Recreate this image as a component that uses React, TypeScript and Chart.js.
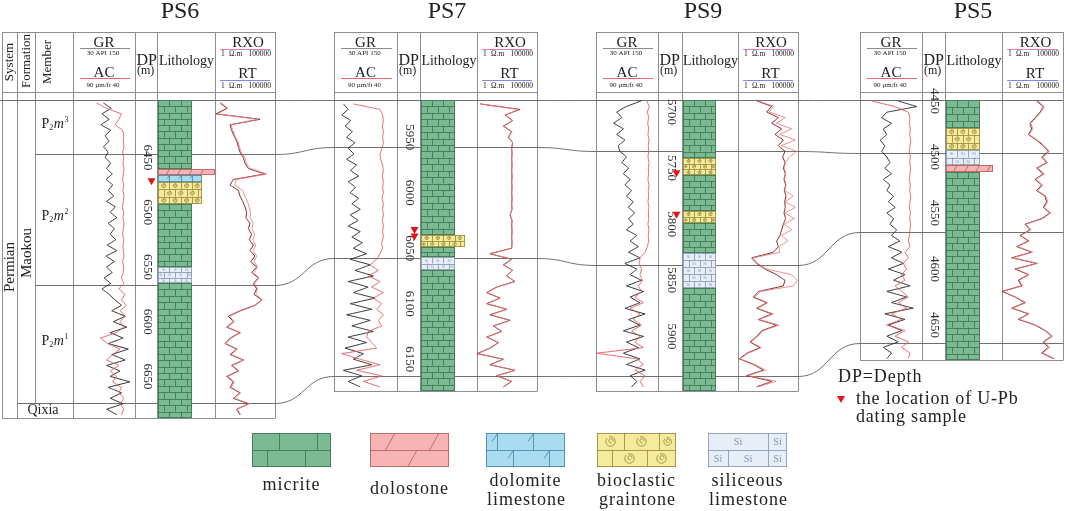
import React, { useEffect, useRef } from 'react';
import { Chart, registerables } from 'chart.js';

Chart.register(...registerables);

// ======================= DATA =======================
const WELLS = ['PS6', 'PS7', 'PS9', 'PS5'];

// ---- PS6 ----
const PS6_DEPTH = [6400, 6405, 6410, 6415, 6420, 6425, 6430, 6435, 6440, 6445, 6450, 6455, 6460, 6465, 6470, 6475, 6480, 6485, 6490, 6495, 6500, 6505, 6510, 6515, 6520, 6525, 6530, 6535, 6540, 6545, 6550, 6555, 6560, 6565, 6570, 6575, 6580, 6585, 6590, 6595, 6600, 6605, 6610, 6615, 6620, 6625, 6630, 6635, 6640, 6645, 6650, 6655, 6660, 6665, 6670, 6675, 6680, 6685];
const PS6_GR = [89, 104, 86, 100, 84, 103, 92, 100, 89, 98, 92, 103, 95, 106, 94, 107, 98, 109, 95, 112, 102, 115, 98, 110, 102, 113, 96, 115, 94, 110, 95, 106, 90, 103, 86, 100, 111, 124, 105, 131, 108, 134, 102, 127, 98, 137, 105, 131, 95, 121, 102, 140, 98, 124, 102, 127, 95, 115];
const PS6_AC = [71, 63, 51, 53, 56, 50, 49, 49.4, 48.9, 50, 49.1, 49.7, 48.9, 49.4, 50, 49.1, 49.7, 48.9, 49.4, 50.2, 49.1, 49.7, 48.9, 49.4, 50, 49.1, 49.7, 49.4, 48.9, 50, 49.1, 49.4, 51, 49, 53, 48, 51, 47, 52, 48, 52, 49, 55, 68, 62, 52, 58, 63, 53, 60, 55, 58, 51, 53, 49, 52, 49, 51];
const PS6_RT = [2.6, 9.4, 1.2, 5600, 18, 24, 38, 64, 88, 121, 230, 316, 600, 14700, 34, 18, 88, 121, 203, 316, 436, 380, 830, 600, 1140, 724, 1560, 830, 2150, 940, 2960, 1140, 4080, 1560, 2960, 1780, 7740, 2150, 121, 13, 34, 9.4, 121, 18, 6.8, 64, 18, 230, 24, 88, 9.4, 34, 18, 121, 34, 600, 64, 121];
const PS6_RXO = [3.5, 12, 1.5, 4000, 22, 30, 45, 80, 110, 150, 300, 420, 900, 20000, 60, 45, 200, 300, 500, 700, 900, 850, 1500, 1200, 2000, 1400, 2500, 1500, 3000, 1800, 3500, 1800, 4500, 2000, 3500, 2500, 9000, 2500, 150, 16, 40, 11, 140, 22, 8, 75, 22, 260, 30, 100, 12, 40, 22, 140, 40, 800, 70, 140];
const PS6_TICKS = [6450, 6500, 6550, 6600, 6650];
// section top, base P2m3, base P2m2, top Qixia, section base
const PS6_TOPS = [6397, 6447, 6566, 6674, 6688];
const PS6_LITH_TOP = [6397, 6460, 6466, 6472, 6492, 6550, 6565];
const PS6_LITH_BASE = [6460, 6466, 6472, 6492, 6550, 6565, 6688];
const PS6_LITH_TYPE = ['micrite', 'dolostone', 'dolomite limestone', 'bioclastic', 'micrite', 'siliceous', 'micrite'];
const PS6_LITH_TEXTURE = [0.6, 1, 0.78, 0.78, 0.6, 0.6, 0.6];
const PS6_SAMPLES = [6472];

// ---- PS7 ----
const PS7_DEPTH = [5920, 5925, 5930, 5935, 5940, 5945, 5950, 5955, 5960, 5965, 5970, 5975, 5980, 5985, 5990, 5995, 6000, 6005, 6010, 6015, 6020, 6025, 6030, 6035, 6040, 6045, 6050, 6055, 6060, 6065, 6070, 6075, 6080, 6085, 6090, 6095, 6100, 6105, 6110, 6115, 6120, 6125, 6130, 6135, 6140, 6145, 6150, 6155, 6160, 6165, 6170, 6175];
const PS7_GR = [48, 57, 45, 62, 51, 65, 54, 70, 57, 68, 54, 73, 61, 77, 57, 71, 61, 77, 64, 80, 61, 76, 57, 80, 64, 84, 67, 92, 61, 99, 70, 105, 57, 95, 67, 108, 61, 102, 54, 99, 64, 105, 57, 92, 51, 86, 67, 102, 48, 83, 57, 80];
const PS7_AC = [74.7, 53.5, 51.4, 50.8, 51.6, 50.8, 51.4, 50.8, 51.9, 53.5, 53, 51.4, 50.8, 51.6, 50.8, 51.4, 50.8, 51.9, 50.8, 51.4, 50.8, 51.6, 50.8, 51.4, 50.8, 52.2, 51.4, 53.5, 56.1, 61.4, 54.8, 62.7, 53.5, 60.1, 50.8, 58.8, 52.2, 56.1, 50.8, 54.8, 52.2, 62.7, 64.1, 60.1, 56.1, 83.9, 69.4, 53.5, 72, 52.2, 66.7, 53.5];
const PS7_RT = [1.8, 3800, 215, 935, 156, 776, 408, 935, 776, 827, 776, 827, 776, 827, 776, 827, 776, 827, 776, 827, 562, 827, 776, 827, 776, 827, 776, 12, 776, 156, 935, 296, 1470, 43, 6.4, 83, 6.4, 296, 12, 562, 23, 113, 6.4, 60, 12, 1, 156, 12, 1470, 43, 776, 156];
const PS7_RXO = [2, 3000, 250, 900, 180, 800, 450, 900, 800, 820, 790, 820, 790, 820, 790, 820, 790, 820, 790, 820, 600, 820, 790, 820, 790, 820, 790, 14, 800, 180, 900, 320, 1400, 50, 7, 90, 7.5, 320, 14, 600, 26, 120, 7, 65, 14, 1.2, 170, 14, 1500, 48, 800, 170];
const PS7_TICKS = [5950, 6000, 6050, 6100, 6150];
const PS7_TOPS = [5916.5, 5959, 6059, 6165, 6179];
const PS7_LITH_TOP = [5916.5, 6038, 6049, 6058, 6070];
const PS7_LITH_BASE = [6038, 6049, 6058, 6070, 6179];
const PS7_LITH_TYPE = ['micrite', 'bioclastic', 'micrite', 'siliceous', 'micrite'];
const PS7_LITH_TEXTURE = [0.6, 0.79, 0.6, 0.6, 0.6];
const PS7_SAMPLES = [6034, 6040];

// ---- PS9 ----
const PS9_DEPTH = [5690, 5695, 5700, 5705, 5710, 5715, 5720, 5725, 5730, 5735, 5740, 5745, 5750, 5755, 5760, 5765, 5770, 5775, 5780, 5785, 5790, 5795, 5800, 5805, 5810, 5815, 5820, 5825, 5830, 5835, 5840, 5845, 5850, 5855, 5860, 5865, 5870, 5875, 5880, 5885, 5890, 5895, 5900, 5905, 5910, 5915, 5920, 5925, 5930, 5935, 5940, 5945];
const PS9_GR = [118, 89, 70, 80, 64, 83, 70, 86, 73, 76, 89, 80, 93, 83, 96, 86, 99, 89, 102, 93, 105, 93, 102, 89, 109, 96, 112, 93, 115, 86, 109, 96, 118, 89, 122, 96, 115, 86, 125, 93, 115, 83, 122, 89, 112, 83, 115, 89, 125, 96, 109, 99];
const PS9_AC = [49.1, 47, 48.6, 47.5, 48.3, 47.5, 48.1, 47.3, 47.8, 47.5, 48.1, 47.3, 47.8, 47.5, 48.1, 47.3, 47.8, 47.5, 48.1, 47.3, 47.8, 47.5, 48.1, 47.3, 47.8, 47.5, 48.6, 50.5, 54.5, 55.1, 53.2, 54.5, 52.4, 55.9, 53.2, 58.6, 51.8, 62.6, 54.5, 59.9, 53.2, 61.2, 54.5, 58.6, 51.8, 89.5, 57.2, 51.8, 58.6, 50.5, 54.5, 51.8];
const PS9_RT = [36, 640, 245, 2290, 640, 4360, 1210, 6000, 2290, 8300, 5270, 8300, 6000, 8800, 6800, 9400, 7240, 10000, 7740, 8800, 6800, 9400, 6000, 4360, 3160, 1670, 2290, 880, 13.8, 36, 178, 1670, 8300, 6000, 49, 19, 245, 36, 640, 49, 1670, 94, 36, 10, 68, 5.3, 1.3, 19, 129, 5.3, 640, 36];
const PS9_RXO = [50, 900, 400, 9000, 1500, 30000, 3000, 60000, 4000, 80000, 20000, 9000, 7000, 9500, 7500, 10000, 8000, 40000, 9000, 60000, 8000, 50000, 7000, 30000, 4000, 15000, 2500, 3000, 18, 45, 250, 30000, 90000, 40000, 70, 25, 300, 45, 900, 60, 2500, 120, 45, 12, 90, 7, 1.5, 25, 200, 7, 1500, 45];
const PS9_TICKS = [5700, 5750, 5800, 5850, 5900];
const PS9_TOPS = [5689, 5735, 5836, 5935, 5949];
const PS9_LITH_TOP = [5689, 5741, 5756, 5788, 5799, 5826, 5857];
const PS9_LITH_BASE = [5741, 5756, 5788, 5799, 5826, 5857, 5949];
const PS9_LITH_TYPE = ['micrite', 'bioclastic', 'micrite', 'bioclastic', 'micrite', 'siliceous', 'micrite'];
const PS9_LITH_TEXTURE = [0.6, 0.6, 0.6, 0.6, 0.6, 0.6, 0.6];
const PS9_SAMPLES = [5755, 5792];

// ---- PS5 ----
const PS5_DEPTH = [4450, 4455, 4460, 4465, 4470, 4475, 4480, 4485, 4490, 4495, 4500, 4505, 4510, 4515, 4520, 4525, 4530, 4535, 4540, 4545, 4550, 4555, 4560, 4565, 4570, 4575, 4580, 4585, 4590, 4595, 4600, 4605, 4610, 4615, 4620, 4625, 4630, 4635, 4640, 4645, 4650, 4655, 4660, 4665, 4670, 4675, 4680];
const PS5_GR = [104, 140, 82, 72, 91, 75, 82, 69, 78, 72, 82, 88, 78, 91, 75, 88, 82, 95, 85, 98, 82, 95, 88, 101, 91, 107, 85, 111, 91, 114, 85, 117, 95, 127, 82, 120, 91, 133, 78, 117, 85, 111, 82, 104, 75, 91, 82];
const PS5_AC = [80.6, 61.8, 51, 49.7, 50.2, 49.4, 50, 49.1, 49.7, 50.2, 49.4, 50, 49.1, 49.7, 50.2, 49.4, 50, 49.1, 49.7, 50.2, 49.4, 50, 49.1, 49.7, 50.2, 51, 49.7, 53.7, 51, 55.1, 52.4, 56.4, 53.7, 61.8, 56.4, 51, 59.1, 52.4, 64.5, 56.4, 68.5, 53.7, 61.8, 51, 56.4, 49.7, 51];
const PS5_RT = [692, 2450, 1300, 506, 198, 270, 144, 692, 2450, 6300, 1780, 4580, 692, 2450, 506, 1780, 692, 3330, 4580, 2450, 8550, 1780, 77, 198, 30, 144, 16, 270, 6.2, 692, 11.6, 144, 21.8, 41, 1, 11.6, 77, 6.2, 144, 21.8, 506, 3330, 11700, 2450, 6300, 1780, 16100];
const PS5_RXO = [900, 3000, 1600, 600, 240, 330, 170, 850, 3000, 8000, 2200, 5500, 850, 3000, 600, 2200, 850, 4000, 5500, 3000, 10000, 2200, 90, 240, 36, 170, 19, 330, 7.5, 850, 14, 170, 26, 50, 1.2, 14, 90, 7.5, 170, 26, 600, 4000, 14000, 3000, 8000, 2200, 20000];
const PS5_TICKS = [4450, 4500, 4550, 4600, 4650];
const PS5_TOPS = [4449, 4496, 4567, 4666, 4681];
const PS5_LITH_TOP = [4449, 4474, 4494, 4507, 4513];
const PS5_LITH_BASE = [4474, 4494, 4507, 4513, 4681];
const PS5_LITH_TYPE = ['micrite', 'bioclastic', 'siliceous', 'dolostone', 'micrite'];
const PS5_LITH_TEXTURE = [0.6, 0.6, 0.6, 0.84, 0.6];
const PS5_SAMPLES: number[] = [];

const GR_RANGE = [30, 150];
const AC_RANGE = [90, 40];
const RES_RANGE = [1, 100000];
const MEMBER_SUP = ['3', '2', '1'];
const LEGEND_TYPES = ['micrite', 'dolostone', 'dolomite limestone', 'bioclastic', 'siliceous'];
const LEGEND_LABELS = [['micrite'], ['dolostone'], ['dolomite', 'limestone'], ['bioclastic', 'graintone'], ['siliceous', 'limestone']];

// ======================= lookup tables built from the arrays =======================
const SERIES: any = {
  PS6: { depth: PS6_DEPTH, gr: PS6_GR, ac: PS6_AC, rt: PS6_RT, rxo: PS6_RXO },
  PS7: { depth: PS7_DEPTH, gr: PS7_GR, ac: PS7_AC, rt: PS7_RT, rxo: PS7_RXO },
  PS9: { depth: PS9_DEPTH, gr: PS9_GR, ac: PS9_AC, rt: PS9_RT, rxo: PS9_RXO },
  PS5: { depth: PS5_DEPTH, gr: PS5_GR, ac: PS5_AC, rt: PS5_RT, rxo: PS5_RXO },
};
const TOPS: any = { PS6: PS6_TOPS, PS7: PS7_TOPS, PS9: PS9_TOPS, PS5: PS5_TOPS };
const TICKS: any = { PS6: PS6_TICKS, PS7: PS7_TICKS, PS9: PS9_TICKS, PS5: PS5_TICKS };
const SAMPLES: any = { PS6: PS6_SAMPLES, PS7: PS7_SAMPLES, PS9: PS9_SAMPLES, PS5: PS5_SAMPLES };
const LITH: any = {
  PS6: { top: PS6_LITH_TOP, base: PS6_LITH_BASE, type: PS6_LITH_TYPE, tex: PS6_LITH_TEXTURE },
  PS7: { top: PS7_LITH_TOP, base: PS7_LITH_BASE, type: PS7_LITH_TYPE, tex: PS7_LITH_TEXTURE },
  PS9: { top: PS9_LITH_TOP, base: PS9_LITH_BASE, type: PS9_LITH_TYPE, tex: PS9_LITH_TEXTURE },
  PS5: { top: PS5_LITH_TOP, base: PS5_LITH_BASE, type: PS5_LITH_TYPE, tex: PS5_LITH_TEXTURE },
};

// ======================= LAYOUT / STYLE =======================
const W = 1065;
const H = 511;
const FONT = '"Liberation Serif", "Times New Roman", Times, serif';
const HEAD_TOP = 32;
const HEAD_BOT = 92;
const FRAME = '#8d8d8d';
const CORR = '#707070';
const INK = '#222';
const GR_COLOR = '#1e1e1e';
const AC_COLOR = '#e2585d';
const RT_COLOR = '#6a1111';
const RXO_COLOR = '#f07b80';

const LAYOUT: any = {
  PS6: { frameL: 2, gr: [73, 135], dp: [135, 157], lith: [157, 215], rt: [215, 275], title: 180, anchorD: 6550, anchorY: 267, k: 1.094 },
  PS7: { frameL: 334, gr: [334, 397], dp: [397, 420], lith: [420, 477], rt: [477, 537], title: 447, anchorD: 6050, anchorY: 248.2, k: 1.11 },
  PS9: { frameL: 596, gr: [596, 658], dp: [658, 682], lith: [682, 738], rt: [738, 798], title: 703, anchorD: 5800, anchorY: 224.2, k: 1.122 },
  PS5: { frameL: 860, gr: [860, 922], dp: [922, 945], lith: [945, 1002], rt: [1002, 1063], title: 973, anchorD: 4500, anchorY: 157, k: 1.12 },
};

const LITH_STYLE: any = {
  micrite: { fill: '#7bba93', line: '#37744d' },
  dolostone: { fill: '#f6b4b4', line: '#b65a5a' },
  'dolomite limestone': { fill: '#a9dcf0', line: '#45809c' },
  bioclastic: { fill: '#f5eb9a', line: '#93853a' },
  siliceous: { fill: '#e7eef8', line: '#8294ac' },
};

const LEGEND_X = [252, 370, 486, 597, 708];
const LEGEND_Y = 433;
const LEGEND_W = 79;
const LEGEND_H = 34;
const LEGEND_BRICK = [
  [38, 27, 15],
  [44, 25, 47],
  [36, 11, 27],
  [35, 27, 15],
  [40, 60, 20],
];

// ======================= scales =======================
const hidden = { display: false, bounds: 'data', grid: { display: false }, ticks: { display: false, callback: () => '' } };

function linX(p0: number, p1: number, v0: number, v1: number) {
  const k = (p1 - p0) / (v1 - v0);
  if (k > 0) {
    const min = v0 - p0 / k;
    return { ...hidden, type: 'linear', axis: 'x', min, max: min + W / k };
  }
  const kk = -k;
  const max = v0 + p0 / kk;
  return { ...hidden, type: 'linear', axis: 'x', reverse: true, min: max - W / kk, max };
}
function logX(p0: number, p1: number, v0: number, v1: number) {
  const lk = (p1 - p0) / (Math.log10(v1) - Math.log10(v0));
  const lmin = Math.log10(v0) - p0 / lk;
  return { ...hidden, type: 'logarithmic', axis: 'x', min: Math.pow(10, lmin), max: Math.pow(10, lmin + W / lk) };
}
function depthY(L: any) {
  const min = L.anchorD - L.anchorY / L.k;
  return { ...hidden, type: 'linear', axis: 'y', reverse: true, min, max: min + H / L.k };
}
function buildScales() {
  const s: any = {};
  for (const w of WELLS) {
    const L = LAYOUT[w];
    s['y_' + w] = depthY(L);
    s['xgr_' + w] = linX(L.gr[0], L.gr[1], GR_RANGE[0], GR_RANGE[1]);
    s['xac_' + w] = linX(L.gr[0], L.gr[1], AC_RANGE[0], AC_RANGE[1]);
    s['xrt_' + w] = logX(L.rt[0], L.rt[1], RES_RANGE[0], RES_RANGE[1]);
    s['xlith_' + w] = linX(L.lith[0] + 1, L.lith[1], 0, 1);
  }
  return s;
}

function pts(depth: number[], vals: number[]) {
  return depth.map((d, i) => ({ x: vals[i], y: d }));
}
function buildDatasets() {
  const out: any[] = [];
  for (const w of WELLS) {
    const S = SERIES[w];
    const y = 'y_' + w;
    out.push({ label: w + ' AC', data: pts(S.depth, S.ac), xAxisID: 'xac_' + w, yAxisID: y, borderColor: AC_COLOR });
    out.push({ label: w + ' GR', data: pts(S.depth, S.gr), xAxisID: 'xgr_' + w, yAxisID: y, borderColor: GR_COLOR });
    out.push({ label: w + ' RXO', data: pts(S.depth, S.rxo), xAxisID: 'xrt_' + w, yAxisID: y, borderColor: RXO_COLOR });
    out.push({ label: w + ' RT', data: pts(S.depth, S.rt), xAxisID: 'xrt_' + w, yAxisID: y, borderColor: RT_COLOR });
  }
  return out.map((d) => ({ ...d, showLine: true, fill: false, pointRadius: 0, pointHoverRadius: 0, borderWidth: 0.9, tension: 0.001 }));
}

// ======================= drawing helpers =======================
function snap(v: number) { return Math.round(v) + 0.5; }
function hl(ctx: any, x0: number, x1: number, y: number) { ctx.beginPath(); ctx.moveTo(x0, snap(y)); ctx.lineTo(x1, snap(y)); ctx.stroke(); }
function vl(ctx: any, x: number, y0: number, y1: number) { ctx.beginPath(); ctx.moveTo(snap(x), y0); ctx.lineTo(snap(x), y1); ctx.stroke(); }
function yPix(chart: any, w: string, d: number) { return chart.scales['y_' + w].getPixelForValue(d); }

function txt(ctx: any, s: string, x: number, y: number, size: number, o: any = {}) {
  ctx.save();
  ctx.font = `${o.italic ? 'italic ' : ''}${size}px ${FONT}`;
  ctx.fillStyle = o.color || INK;
  ctx.textAlign = o.align || 'center';
  ctx.textBaseline = o.baseline || 'alphabetic';
  if (o.spacing) ctx.letterSpacing = o.spacing;
  if (o.rot) { ctx.translate(x, y); ctx.rotate(o.rot); ctx.fillText(s, 0, 0); }
  else ctx.fillText(s, x, y);
  ctx.restore();
}

function spiral(ctx: any, cx: number, cy: number, r: number) {
  ctx.beginPath();
  ctx.arc(cx, cy, r, Math.PI * 1.4, Math.PI * 3.25);
  ctx.stroke();
  ctx.beginPath();
  ctx.arc(cx + r * 0.1, cy - r * 0.15, r * 0.45, Math.PI * 0.4, Math.PI * 2.1);
  ctx.stroke();
}

function drawPattern(ctx: any, type: string, x: number, y: number, w: number, h: number, rowH: number, brickW: number, ph0: number, ph1: number) {
  const st = LITH_STYLE[type];
  ctx.save();
  ctx.fillStyle = st.fill;
  ctx.fillRect(x, y, w, h);
  ctx.beginPath();
  ctx.rect(x, y, w, h);
  ctx.clip();
  ctx.strokeStyle = st.line;
  ctx.fillStyle = st.line;
  ctx.lineWidth = 0.8;
  const rows = Math.max(1, Math.round(h / rowH));
  const rh = h / rows;
  ctx.beginPath();
  for (let r = 1; r < rows; r++) { const yy = snap(y + r * rh); ctx.moveTo(x, yy); ctx.lineTo(x + w, yy); }
  ctx.stroke();
  for (let r = 0; r < rows; r++) {
    const ry = y + r * rh;
    const ph = r % 2 === 0 ? ph0 : ph1;
    const xs: number[] = [];
    for (let bx = x + ph; bx < x + w - 1.5; bx += brickW) if (bx > x + 1.5) xs.push(bx);
    ctx.beginPath();
    if (type === 'dolostone') {
      for (const bx of xs) { ctx.moveTo(bx - rh * 0.55, ry + rh); ctx.lineTo(bx, ry); }
    } else {
      for (const bx of xs) { ctx.moveTo(snap(bx), ry); ctx.lineTo(snap(bx), ry + rh); }
      if (type === 'dolomite limestone') for (const bx of xs) { ctx.moveTo(bx - rh * 0.3, ry + rh * 0.5); ctx.lineTo(snap(bx), ry + 0.5); }
    }
    ctx.stroke();
    if (type === 'bioclastic' || type === 'siliceous') {
      const edges = [x, ...xs, x + w];
      for (let c = 0; c < edges.length - 1; c++) {
        const cw = edges[c + 1] - edges[c];
        if (cw < rh * 0.9) continue;
        const cx = (edges[c] + edges[c + 1]) / 2;
        const cy = ry + rh / 2;
        if (type === 'bioclastic') spiral(ctx, cx, cy, Math.min(rh * 0.28, cw * 0.22));
        else {
          ctx.font = `${Math.max(3.5, rh * 0.6)}px ${FONT}`;
          ctx.textAlign = 'center';
          ctx.textBaseline = 'middle';
          ctx.fillText('Si', cx, cy + 0.5);
        }
      }
    }
  }
  ctx.restore();
  ctx.save();
  ctx.strokeStyle = st.line;
  ctx.lineWidth = 0.8;
  ctx.strokeRect(x + 0.4, y + 0.4, w - 0.8, h - 0.8);
  ctx.restore();
}

function tri(ctx: any, cx: number, cy: number) {
  ctx.save();
  ctx.beginPath();
  ctx.moveTo(cx - 4, cy - 3.5);
  ctx.lineTo(cx + 4, cy - 3.5);
  ctx.lineTo(cx, cy + 3.5);
  ctx.closePath();
  ctx.fillStyle = '#e3141b';
  ctx.fill();
  ctx.restore();
}

function memberLabel(ctx: any, cx: number, baseY: number, sup: string) {
  ctx.save();
  ctx.fillStyle = INK;
  ctx.textBaseline = 'alphabetic';
  ctx.textAlign = 'left';
  const f1 = `14px ${FONT}`, f2 = `8px ${FONT}`, f3 = `italic 14px ${FONT}`;
  ctx.font = f1; const a = ctx.measureText('P').width;
  ctx.font = f2; const b = ctx.measureText('2').width;
  ctx.font = f3; const c = ctx.measureText('m').width;
  ctx.font = f2; const d = ctx.measureText(sup).width;
  let x = cx - (a + b + c + d + 1) / 2;
  ctx.font = f1; ctx.fillText('P', x, baseY); x += a;
  ctx.font = f2; ctx.fillText('2', x, baseY + 2); x += b + 0.5;
  ctx.font = f3; ctx.fillText('m', x, baseY); x += c + 0.5;
  ctx.font = f2; ctx.fillText(sup, x, baseY - 6);
  ctx.restore();
}

// ======================= plugin parts =======================
function drawFrames(chart: any) {
  const ctx = chart.ctx;
  ctx.save();
  ctx.strokeStyle = FRAME;
  ctx.lineWidth = 1;
  for (const w of WELLS) {
    const L = LAYOUT[w];
    const yb = yPix(chart, w, TOPS[w][4]);
    const xs = [L.frameL, L.gr[0], L.gr[1], L.dp[1], L.lith[1], L.rt[1]];
    for (const x of xs) vl(ctx, x, HEAD_TOP, snap(yb));
    hl(ctx, L.frameL, L.rt[1], HEAD_TOP);
    hl(ctx, L.frameL, L.rt[1], HEAD_BOT);
    hl(ctx, L.frameL, L.rt[1], yb);
  }
  const yb6 = yPix(chart, 'PS6', PS6_TOPS[4]);
  const yq = yPix(chart, 'PS6', PS6_TOPS[3]);
  vl(ctx, 17, HEAD_TOP, snap(yb6));
  vl(ctx, 35, HEAD_TOP, snap(yq));
  ctx.restore();
}

function drawCorrelation(chart: any) {
  const ctx = chart.ctx;
  ctx.save();
  ctx.strokeStyle = CORR;
  ctx.lineWidth = 1;
  const starts = [0, 35, 35, 17];
  for (let i = 0; i < 4; i++) {
    const ys = WELLS.map((w) => snap(yPix(chart, w, TOPS[w][i])));
    ctx.beginPath();
    ctx.moveTo(starts[i], ys[0]);
    ctx.lineTo(LAYOUT[WELLS[0]].rt[1], ys[0]);
    for (let j = 1; j < WELLS.length; j++) {
      const xa = LAYOUT[WELLS[j - 1]].rt[1];
      const N = LAYOUT[WELLS[j]];
      const xb = N.frameL;
      const xm = (xa + xb) / 2;
      ctx.bezierCurveTo(xm, ys[j - 1], xm, ys[j], xb, ys[j]);
      ctx.lineTo(N.rt[1], ys[j]);
    }
    ctx.stroke();
  }
  ctx.restore();
}

function drawLithology(chart: any) {
  const ctx = chart.ctx;
  for (const w of WELLS) {
    const lx = chart.scales['xlith_' + w];
    const ys = chart.scales['y_' + w];
    const Lt = LITH[w];
    const x0 = Math.round(lx.getPixelForValue(0));
    const brick = (lx.getPixelForValue(0.6) - lx.getPixelForValue(0)) / 3;
    for (let i = 0; i < Lt.top.length; i++) {
      const y0 = Math.round(ys.getPixelForValue(Lt.top[i]));
      const y1 = Math.round(ys.getPixelForValue(Lt.base[i]));
      const x1 = Math.round(lx.getPixelForValue(Lt.tex[i]));
      drawPattern(ctx, Lt.type[i], x0, y0, x1 - x0, y1 - y0, 6.4, brick, brick, brick / 2);
    }
  }
}

function scaleLine(ctx: any, L: any, y: number) {
  txt(ctx, '1', L.rt[0] + 6, y, 7.5, { align: 'left' });
  txt(ctx, 'Ω.m', L.rt[0] + 14, y, 7.5, { align: 'left' });
  txt(ctx, '100000', L.rt[1] - 4, y, 7.5, { align: 'right' });
}

function drawTexts(chart: any) {
  const ctx = chart.ctx;
  for (const w of WELLS) {
    const L = LAYOUT[w];
    txt(ctx, w, L.title, 18, 24);
    const gc = (L.gr[0] + L.gr[1]) / 2;
    txt(ctx, 'GR', gc, 46.5, 15);
    txt(ctx, '30 API 150', gc - 1, 54.5, 7);
    txt(ctx, 'AC', gc, 77, 15);
    txt(ctx, '90 µm/ft 40', gc - 1, 87, 7);
    ctx.save();
    ctx.lineWidth = 1.2;
    ctx.strokeStyle = '#8c8c8c'; hl(ctx, L.gr[0] + 7, L.gr[1] - 5, 48);
    ctx.strokeStyle = '#e06a6a'; hl(ctx, L.gr[0] + 7, L.gr[1] - 5, 78);
    ctx.strokeStyle = '#e07ac4'; hl(ctx, L.rt[0] + 5, L.rt[1] - 5, 48.5);
    ctx.strokeStyle = '#8585ea'; hl(ctx, L.rt[0] + 5, L.rt[1] - 5, 79.5);
    ctx.restore();
    txt(ctx, 'DP', L.dp[0] + 1.5, 65, 16, { align: 'left' });
    txt(ctx, '(m)', L.dp[0] + 2, 74, 12, { align: 'left' });
    txt(ctx, 'Lithology', (L.lith[0] + L.lith[1]) / 2 + 0.5, 64.5, 14);
    const rc = (L.rt[0] + L.rt[1]) / 2 + 3;
    txt(ctx, 'RXO', rc, 47, 15);
    scaleLine(ctx, L, 56);
    txt(ctx, 'RT', rc - 0.5, 78, 15);
    scaleLine(ctx, L, 88);
    // depth labels
    const dc = (L.dp[0] + L.dp[1]) / 2 + 1;
    for (const d of TICKS[w]) txt(ctx, String(d), dc, yPix(chart, w, d), 13, { rot: Math.PI / 2, baseline: 'middle', color: '#333' });
    // sample markers
    for (const d of SAMPLES[w]) tri(ctx, L.dp[1] - 5.5, yPix(chart, w, d));
  }
  // PS6 stratigraphic columns
  txt(ctx, 'System', 10, 62, 13, { rot: -Math.PI / 2, baseline: 'middle' });
  txt(ctx, 'Formation', 27, 61, 13, { rot: -Math.PI / 2, baseline: 'middle' });
  txt(ctx, 'Member', 48, 62, 13, { rot: -Math.PI / 2, baseline: 'middle' });
  txt(ctx, 'Permian', 10, 267, 15, { rot: -Math.PI / 2, baseline: 'middle' });
  txt(ctx, 'Maokou', 27, 253, 15, { rot: -Math.PI / 2, baseline: 'middle' });
  txt(ctx, 'Qixia', 43, 413.5, 14);
  for (let i = 0; i < 3; i++) {
    const ya = yPix(chart, 'PS6', PS6_TOPS[i]);
    const yb = yPix(chart, 'PS6', PS6_TOPS[i + 1]);
    memberLabel(ctx, 55, (ya + yb) / 2 + 1, MEMBER_SUP[i]);
  }
}

function drawLegend(chart: any) {
  const ctx = chart.ctx;
  LEGEND_TYPES.forEach((t, i) => {
    const [bw, p0, p1] = LEGEND_BRICK[i];
    drawPattern(ctx, t, LEGEND_X[i], LEGEND_Y, LEGEND_W, LEGEND_H, 17, bw, p0, p1);
    const cx = LEGEND_X[i] + LEGEND_W / 2;
    const lab = LEGEND_LABELS[i];
    if (lab.length === 1) txt(ctx, lab[0], cx, i === 0 ? 490 : 494, 18, { spacing: '1px' });
    else { txt(ctx, lab[0], cx, 486, 18, { spacing: '1px' }); txt(ctx, lab[1], cx + 1, 505, 18, { spacing: '1px' }); }
  });
  txt(ctx, 'DP=Depth', 838, 382, 18, { align: 'left', spacing: '0.9px' });
  tri(ctx, 841, 399.5);
  txt(ctx, 'the location of U-Pb', 856, 404, 18, { align: 'left', spacing: '0.8px' });
  txt(ctx, 'dating sample', 856, 422, 18, { align: 'left', spacing: '0.8px' });
}

const panelPlugin = {
  id: 'logPanel',
  beforeDraw(chart: any) {
    const ctx = chart.ctx;
    ctx.save();
    ctx.fillStyle = '#ffffff';
    ctx.fillRect(0, 0, W, H);
    ctx.restore();
  },
  beforeDatasetsDraw(chart: any) {
    drawFrames(chart);
    drawCorrelation(chart);
    drawLithology(chart);
  },
  afterDatasetsDraw(chart: any) {
    drawTexts(chart);
    drawLegend(chart);
  },
};

export default function App() {
  const ref = useRef<HTMLCanvasElement>(null);
  useEffect(() => {
    if (!ref.current) return;
    const chart = new Chart(ref.current, {
      type: 'scatter',
      data: { datasets: buildDatasets() },
      options: {
        responsive: false,
        animation: false,
        devicePixelRatio: 1,
        events: [],
        layout: { padding: 0 },
        plugins: { legend: { display: false }, tooltip: { enabled: false }, title: { display: false } },
        scales: buildScales(),
      } as any,
      plugins: [panelPlugin as any],
    });
    return () => chart.destroy();
  }, []);
  return (
    <div style={{ position: 'fixed', left: 0, top: 0, width: W, height: H, background: '#fff' }}>
      <canvas ref={ref} width={W} height={H} style={{ display: 'block', width: W, height: H }} />
    </div>
  );
}
